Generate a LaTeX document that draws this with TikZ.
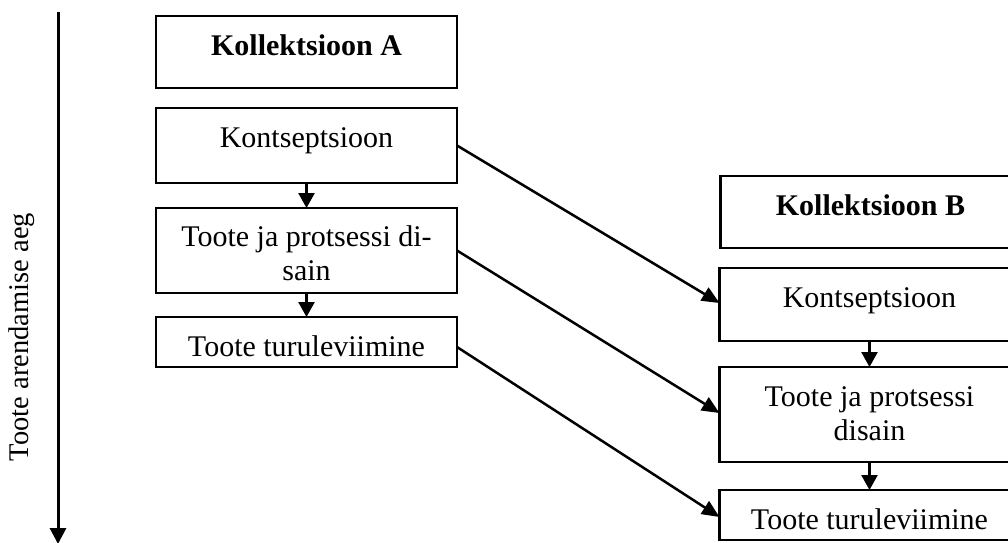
\documentclass[tikz,border=0pt]{standalone}
\usepackage{fontspec}
\setmainfont{Liberation Serif}
\usetikzlibrary{arrows.meta}

\begin{document}
\begin{tikzpicture}[
  x=0.4pt, y=-0.4pt,
  font=\fontsize{12pt}{13.6pt}\selectfont,
  box/.style={draw, line width=0.9pt, rectangle, inner sep=0pt, outer sep=0pt},
  boxA/.style={box, minimum width=120.4pt},
  boxB/.style={box, minimum width=120pt},
  txt/.style={inner sep=0pt, outer sep=0pt, anchor=base, align=center},
  flow/.style={line width=1pt, -{Triangle[length=6pt,width=6.4pt]}},
  jump/.style={line width=1pt, -{Triangle[length=7pt,width=6pt]}},
  timeline/.style={line width=1.2pt, -{Triangle[length=6.4pt,width=6.4pt]}}
]
\useasboundingbox (0,0) rectangle (1008,542);
\clip (0,0) rectangle (1008,542);

% time axis
\coordinate (t0) at (58,12);
\coordinate (t1) at (58,544);
\draw[timeline] (t0) -- (t1);
\node[rotate=90, inner sep=0pt, font=\fontsize{11.4pt}{13pt}\selectfont] (taxis) at (22,337) {Toote arendamise aeg};

% collection A
\node[boxA, minimum height=28.8pt] (a1) at (306.5,52) {};
\node[boxA, minimum height=30pt]   (a2) at (306.5,145.5) {};
\node[boxA, minimum height=34pt]   (a3) at (306.5,250.5) {};
\node[boxA, minimum height=20pt]   (a4) at (306.5,342) {};
\node[txt] (a1t) at ([yshift=-15.6pt]a1.north) {\textbf{Kollektsioon A}};
\node[txt] (a2t) at ([yshift=-15.6pt]a2.north) {Kontseptsioon};
% two-line labels: the base anchor sits on the last line
\node[txt] (a3t) at ([yshift=-28.8pt]a3.north) {Toote ja protsessi di-\\sain};
\node[txt] (a4t) at ([yshift=-15.6pt]a4.north) {Toote turuleviimine};

% collection B
\node[boxB, minimum height=28.8pt] (b1) at (870.5,212) {};
\node[boxB, minimum height=29.2pt] (b2) at (869.5,304.5) {};
\node[boxB, minimum height=38pt]   (b3) at (869.5,414.5) {};
\node[boxB, minimum height=20pt]   (b4) at (869.5,515) {};
\node[txt] (b1t) at ([yshift=-15.6pt]b1.north) {\textbf{Kollektsioon B}};
\node[txt] (b2t) at ([yshift=-15.6pt]b2.north) {Kontseptsioon};
\node[txt] (b3t) at ([yshift=-29.4pt]b3.north) {Toote ja protsessi\\disain};
\node[txt] (b4t) at ([yshift=-15.6pt]b4.north) {Toote turuleviimine};

% steps within each collection
\draw[flow] (a2.south) -- (a3.north);
\draw[flow] (a3.south) -- (a4.north);
\draw[flow] (b2.south) -- (b3.north);
\draw[flow] (b3.south) -- (b4.north);

% hand-over from A to B
\draw[jump] (a2.east) -- ([yshift=0.6pt]b2.west);
\draw[jump] (a3.east) -- ([yshift=0.6pt]b3.west);
\draw[jump] ([yshift=-2pt]a4.east) -- ([yshift=-0.8pt]b4.west);
\end{tikzpicture}
\end{document}
